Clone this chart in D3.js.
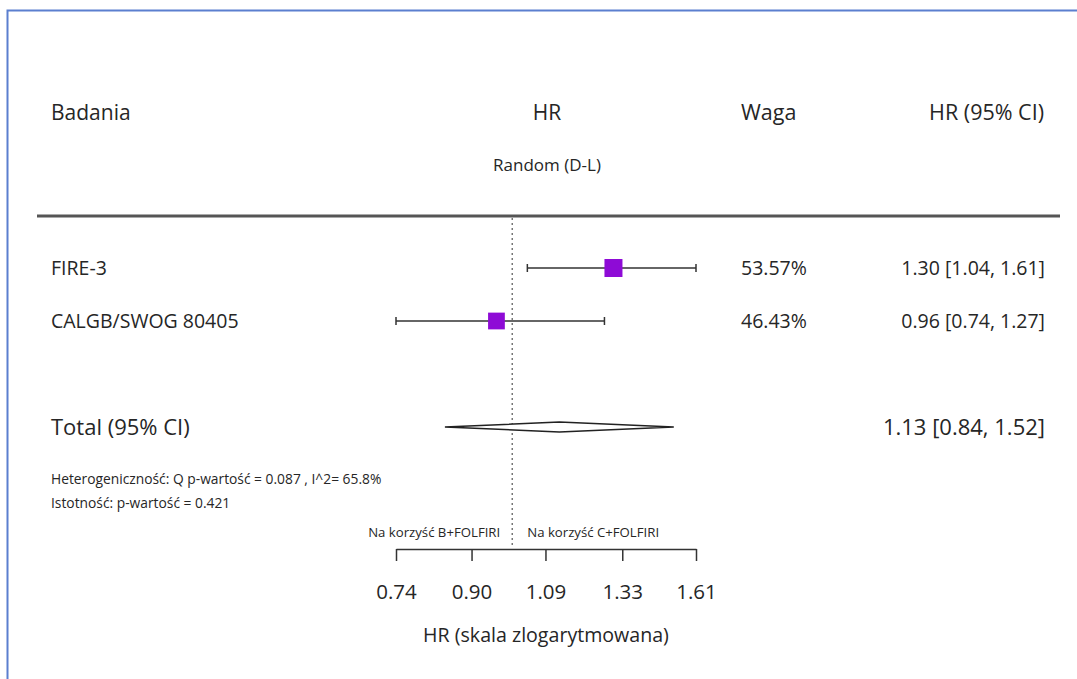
<!DOCTYPE html>
<html>
<head>
<meta charset="utf-8">
<script src="https://cdn.jsdelivr.net/npm/d3@7"></script>
<style>
  body { margin: 0; background: #fff; }
  svg text { font-family: "Open Sans", Lato, sans-serif; fill: #262626; }
</style>
</head>
<body>
<svg id="chart" width="1077" height="679"></svg>
<script>
// study rows
var studies = ["FIRE-3", "CALGB/SWOG 80405"];
var hr = [1.30, 0.96];
var lower = [1.04, 0.74];
var upper = [1.61, 1.27];
var weights = [53.57, 46.43];

// pooled estimate
var totalHr = 1.13, totalLower = 0.84, totalUpper = 1.52;

var tickValues = [0.74, 0.90, 1.09, 1.33, 1.61];
var heterogeneity = "Heterogeniczność: Q p-wartość = 0.087 , I^2= 65.8%";
var significance = "Istotność: p-wartość = 0.421";

var svg = d3.select("#chart");
var fmt = d3.format(".2f");

var x = d3.scaleLog().domain([0.74, 1.61]).range([396, 696]);
var y = d3.scalePoint().domain(studies).range([268, 321]);
var boxSize = d3.scaleSqrt().domain([0, 53.57]).range([0, 18]);

// frame (only top and left visible)
svg.append("path")
  .attr("d", "M7.5,679 V10.5 H1077")
  .attr("fill", "none")
  .attr("stroke", "#5b7fcf")
  .attr("stroke-width", 2);

// header
svg.append("text").attr("x", 51).attr("y", 120).attr("font-size", 21).text("Badania");
svg.append("text").attr("x", 547).attr("y", 120).attr("font-size", 21).attr("text-anchor", "middle").text("HR");
svg.append("text").attr("x", 547).attr("y", 171).attr("font-size", 17).attr("text-anchor", "middle").text("Random (D-L)");
svg.append("text").attr("x", 741).attr("y", 120).attr("font-size", 21.5).text("Waga");
svg.append("text").attr("x", 1044).attr("y", 120).attr("font-size", 21.5).attr("text-anchor", "end").text("HR (95% CI)");

svg.append("line")
  .attr("x1", 37).attr("x2", 1060).attr("y1", 216).attr("y2", 216)
  .attr("stroke", "#555").attr("stroke-width", 3);

// null line
svg.append("line")
  .attr("x1", x(1)).attr("x2", x(1)).attr("y1", 218).attr("y2", 546)
  .attr("stroke", "#555").attr("stroke-width", 1.2)
  .attr("stroke-dasharray", "2,3");

// study rows
var rows = svg.selectAll("g.row").data(studies).enter().append("g").attr("class", "row");

rows.append("text")
  .attr("x", 51).attr("y", function(d) { return y(d) + 7; })
  .attr("font-size", 19.5).text(function(d) { return d; });

rows.append("line")
  .attr("x1", function(d, i) { return x(lower[i]); })
  .attr("x2", function(d, i) { return x(upper[i]); })
  .attr("y1", function(d) { return y(d); }).attr("y2", function(d) { return y(d); })
  .attr("stroke", "#333").attr("stroke-width", 1.5);

[lower, upper].forEach(function(arr) {
  rows.append("line")
    .attr("x1", function(d, i) { return x(arr[i]); })
    .attr("x2", function(d, i) { return x(arr[i]); })
    .attr("y1", function(d) { return y(d) - 4; }).attr("y2", function(d) { return y(d) + 4; })
    .attr("stroke", "#333").attr("stroke-width", 1.5);
});

rows.append("rect")
  .attr("x", function(d, i) { return x(hr[i]) - boxSize(weights[i]) / 2; })
  .attr("y", function(d, i) { return y(d) - boxSize(weights[i]) / 2; })
  .attr("width", function(d, i) { return boxSize(weights[i]); })
  .attr("height", function(d, i) { return boxSize(weights[i]); })
  .attr("fill", "#8e0bd6");

rows.append("text")
  .attr("x", 741).attr("y", function(d) { return y(d) + 7; })
  .attr("font-size", 19.5).text(function(d, i) { return fmt(weights[i]) + "%"; });

rows.append("text")
  .attr("x", 1045).attr("y", function(d) { return y(d) + 7; })
  .attr("font-size", 19.5).attr("text-anchor", "end")
  .text(function(d, i) { return fmt(hr[i]) + " [" + fmt(lower[i]) + ", " + fmt(upper[i]) + "]"; });

// total
var ty = 427;
svg.append("text").attr("x", 51).attr("y", ty + 8).attr("font-size", 22).text("Total (95% CI)");
svg.append("path")
  .attr("d", "M" + x(totalLower) + "," + ty + " L" + x(totalHr) + "," + (ty - 5) +
             " L" + x(totalUpper) + "," + ty + " L" + x(totalHr) + "," + (ty + 5) + "Z")
  .attr("fill", "#fff").attr("stroke", "#222").attr("stroke-width", 1.5);
svg.append("text").attr("x", 1045).attr("y", ty + 8).attr("font-size", 22).attr("text-anchor", "end")
  .text(fmt(totalHr) + " [" + fmt(totalLower) + ", " + fmt(totalUpper) + "]");

svg.append("text").attr("x", 51).attr("y", 484).attr("font-size", 13.8).text(heterogeneity);
svg.append("text").attr("x", 51).attr("y", 508).attr("font-size", 13.8).text(significance);

// favour labels
svg.append("text").attr("x", x(1) - 12).attr("y", 537).attr("font-size", 13.2).attr("text-anchor", "end").text("Na korzyść B+FOLFIRI");
svg.append("text").attr("x", x(1) + 15).attr("y", 537).attr("font-size", 13.2).text("Na korzyść C+FOLFIRI");

// axis
var axis = d3.axisBottom(x).tickValues(tickValues).tickFormat(fmt)
  .tickSize(12).tickSizeOuter(0).tickPadding(23);
var ag = svg.append("g").attr("transform", "translate(0,549)").call(axis);
ag.select(".domain").attr("stroke", "#333").attr("stroke-width", 1.5);
ag.selectAll(".tick line").attr("stroke", "#333").attr("stroke-width", 1.5);
ag.selectAll(".tick text").attr("font-size", 20.5).attr("fill", "#262626")
  .style("font-family", "'Open Sans', Lato, sans-serif");

svg.append("text").attr("x", 546).attr("y", 642).attr("font-size", 19.6).attr("text-anchor", "middle")
  .text("HR (skala zlogarytmowana)");
</script>
</body>
</html>
